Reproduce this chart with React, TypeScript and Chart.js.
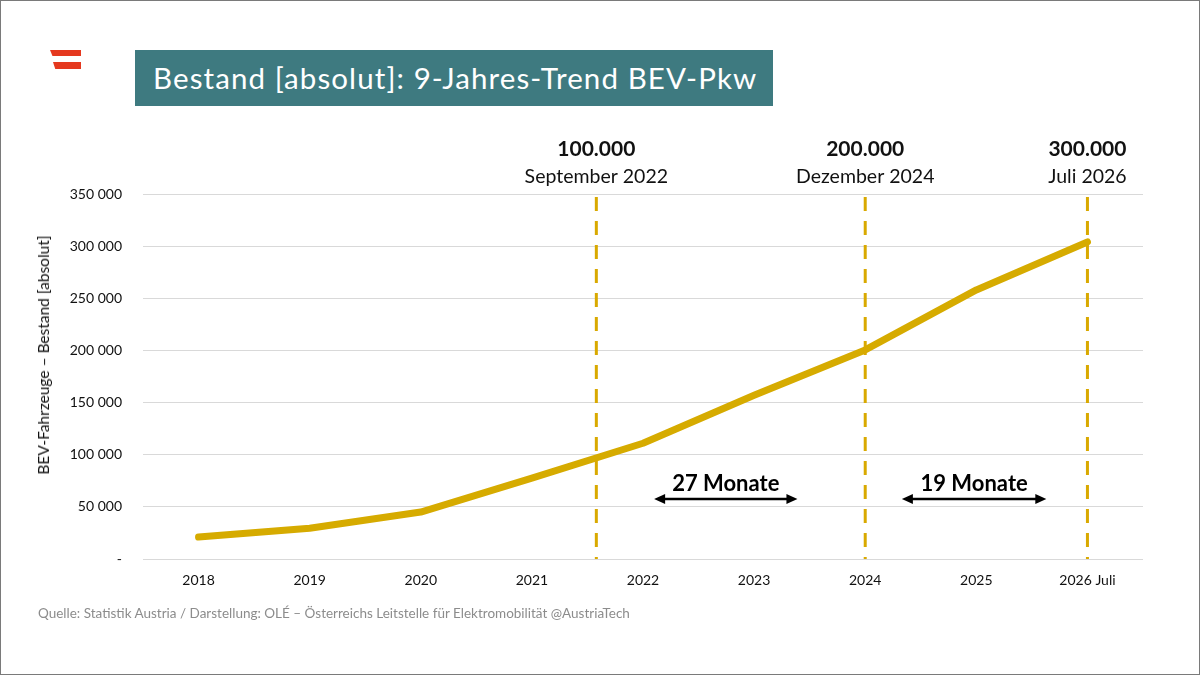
import React, { useEffect, useRef } from "react";
import { Chart, registerables } from "chart.js";

Chart.register(...registerables);

const categories = ["2018", "2019", "2020", "2021", "2022", "2023", "2024", "2025", "2026 Juli"];
const bevStock = [21000, 29500, 45000, 77500, 111000, 157000, 200500, 258000, 304000];
const yTicks = [0, 50000, 100000, 150000, 200000, 250000, 300000, 350000];

const milestoneValues = ["100.000", "200.000", "300.000"];
const milestoneDates = ["September 2022", "Dezember 2024", "Juli 2026"];
const milestoneIndex = [3.58, 6.0, 8.0];

const spanLabels = ["27 Monate", "19 Monate"];
const spanFrom = [4.1, 6.33];
const spanTo = [5.39, 7.63];
const spanLevel = 57500;

const GOLD = "#D6AB00";
const DASH = "#D9A900";

function fmt(v: number) {
  if (v === 0) return "-";
  return String(v).replace(/\B(?=(\d{3})+(?!\d))/g, " ");
}

const annotationPlugin = {
  id: "annot",
  afterDatasetsDraw(chart: any) {
    const ctx = chart.ctx;
    const xs = chart.scales.x;
    const ys = chart.scales.y;
    const area = chart.chartArea;
    ctx.save();
    milestoneIndex.forEach((idx, i) => {
      const x = xs.getPixelForValue(idx);
      ctx.beginPath();
      ctx.setLineDash([14, 10]);
      ctx.lineWidth = 3;
      ctx.strokeStyle = DASH;
      ctx.moveTo(x, area.top + 3);
      ctx.lineTo(x, area.bottom);
      ctx.stroke();
      ctx.setLineDash([]);
      ctx.fillStyle = "#111";
      ctx.textAlign = "center";
      ctx.textBaseline = "middle";
      ctx.font = "bold 21px Lato";
      ctx.fillText(milestoneValues[i], x, area.top - 45);
      ctx.font = "19.5px Lato";
      ctx.fillText(milestoneDates[i], x, area.top - 17);
    });
    spanLabels.forEach((lab, i) => {
      const x1 = xs.getPixelForValue(spanFrom[i]);
      const x2 = xs.getPixelForValue(spanTo[i]);
      const y = ys.getPixelForValue(spanLevel);
      const head = 10;
      ctx.strokeStyle = "#000";
      ctx.fillStyle = "#000";
      ctx.lineWidth = 2.5;
      ctx.beginPath();
      ctx.moveTo(x1 + head, y);
      ctx.lineTo(x2 - head, y);
      ctx.stroke();
      ctx.beginPath();
      ctx.moveTo(x1, y);
      ctx.lineTo(x1 + head + 1, y - 5);
      ctx.lineTo(x1 + head + 1, y + 5);
      ctx.closePath();
      ctx.fill();
      ctx.beginPath();
      ctx.moveTo(x2, y);
      ctx.lineTo(x2 - head - 1, y - 5);
      ctx.lineTo(x2 - head - 1, y + 5);
      ctx.closePath();
      ctx.fill();
      ctx.font = "bold 22px Lato";
      ctx.textAlign = "center";
      ctx.textBaseline = "middle";
      ctx.fillText(lab, (x1 + x2) / 2, y - 15);
    });
    ctx.restore();
  },
};

export default function App() {
  const ref = useRef<HTMLCanvasElement | null>(null);
  useEffect(() => {
    document.body.style.margin = "0";
    if (!ref.current) return;
    const chart = new Chart(ref.current, {
      type: "line",
      data: {
        labels: categories,
        datasets: [
          {
            data: bevStock,
            borderColor: GOLD,
            borderWidth: 7,
            borderCapStyle: "round",
            borderJoinStyle: "round",
            pointRadius: 0,
            tension: 0,
            fill: false,
          },
        ],
      },
      options: {
        animation: false,
        responsive: false,
        maintainAspectRatio: false,
        layout: { padding: { left: 0, top: 194, right: 57, bottom: 0 } },
        plugins: { legend: { display: false }, tooltip: { enabled: false }, title: { display: false } },
        scales: {
          x: {
            offset: true,
            grid: { display: false, drawTicks: false },
            border: { display: false },
            ticks: { color: "#111", font: { family: "Lato", size: 14 }, padding: 13, maxRotation: 0, autoSkip: false },
            afterFit: (s: any) => {
              s.height = 116;
            },
          },
          y: {
            min: 0,
            max: 350000,
            afterBuildTicks: (s: any) => {
              s.ticks = yTicks.map((v) => ({ value: v }));
            },
            grid: { color: "#D9D9D9", lineWidth: 1, drawTicks: false },
            border: { display: false },
            ticks: {
              color: "#111",
              font: { family: "Lato", size: 14 },
              padding: 21,
              callback: (v: any) => fmt(Number(v)),
            },
            afterFit: (s: any) => {
              s.width = 143;
            },
          },
        },
      },
      plugins: [annotationPlugin],
    } as any);
    return () => chart.destroy();
  }, []);

  return (
    <div
      style={{
        position: "absolute",
        left: 0,
        top: 0,
        width: 1200,
        height: 675,
        boxSizing: "border-box",
        border: "1px solid #7a7a7a",
        background: "#fff",
        overflow: "hidden",
        fontFamily: "Lato, sans-serif",
      }}
    >
      <canvas ref={ref} width={1200} height={675} style={{ position: "absolute", left: -1, top: -1, width: 1200, height: 675 }} />
      <div style={{ position: "absolute", left: 49, top: 49, width: 31, height: 6, background: "#E5391F", clipPath: "polygon(0 0,100% 0,100% 100%,8% 100%)" }} />
      <div style={{ position: "absolute", left: 52, top: 61, width: 28, height: 7, background: "#E5391F", clipPath: "polygon(0 0,100% 0,100% 100%,8% 100%)" }} />
      <div
        style={{
          position: "absolute",
          left: 134,
          top: 49,
          width: 638,
          height: 56,
          background: "#3E7A80",
          color: "#fff",
          fontSize: 29.5,
          letterSpacing: 1.1,
          lineHeight: "56px",
          paddingLeft: 18,
          boxSizing: "border-box",
          whiteSpace: "nowrap",
        }}
      >
        Bestand [absolut]: 9-Jahres-Trend BEV-Pkw
      </div>
      <div
        style={{
          position: "absolute",
          left: 42,
          top: 354,
          transform: "translate(-50%, -50%) rotate(-90deg)",
          fontSize: 15.5,
          color: "#111",
          whiteSpace: "nowrap",
        }}
      >
        BEV-Fahrzeuge – Bestand [absolut]
      </div>
      <div style={{ position: "absolute", left: 37, top: 604, fontSize: 13.5, color: "#8C8C8C", whiteSpace: "nowrap" }}>
        Quelle: Statistik Austria / Darstellung: OLÉ – Österreichs Leitstelle für Elektromobilität @AustriaTech
      </div>
    </div>
  );
}
